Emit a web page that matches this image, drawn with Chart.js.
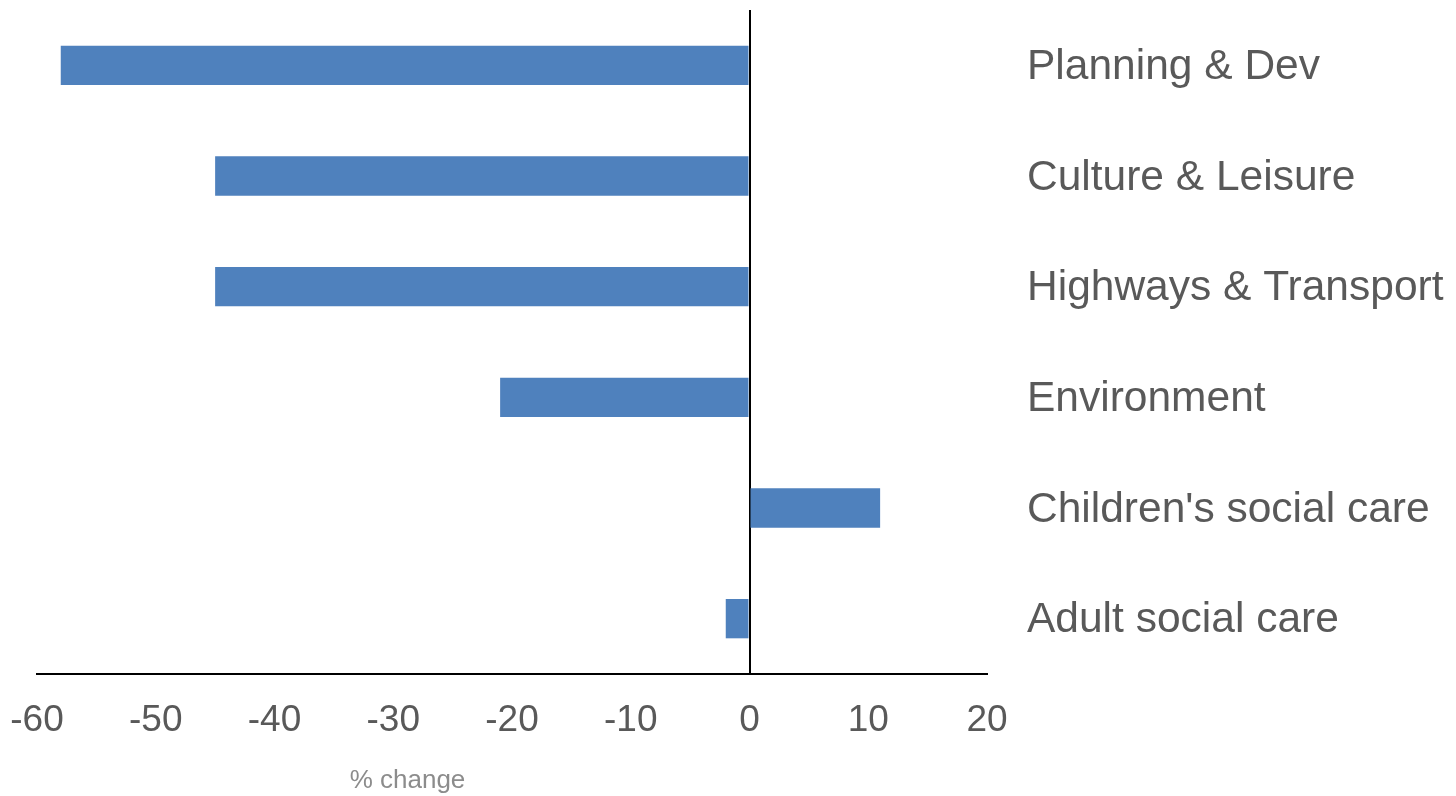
<!DOCTYPE html>
<html>
<head>
<meta charset="utf-8">
<title>% change by service</title>
<script src="https://cdn.jsdelivr.net/npm/chart.js@4/dist/chart.umd.min.js"></script>
<style>
    html, body { margin: 0; padding: 0; background: #fff; }
    #wrap { width: 1456px; height: 796px; }
</style>
</head>
<body>
<div id="wrap"><canvas id="myChart"></canvas></div>
<script>
// services, top to bottom
const services = ['Planning & Dev', 'Culture & Leisure', 'Highways & Transport', 'Environment', "Children's social care", 'Adult social care']
const changes = [-58, -45, -45, -21, 11, -2]
const xTicks = [-60, -50, -40, -30, -20, -10, 0, 10, 20]

const FONT = "'Liberation Sans', Arial, sans-serif"

// axis caption sits under the left half, not centred on the plot
const captionPlugin = {
    id: 'caption',
    afterDraw(chart) {
        const { ctx, scales } = chart
        ctx.save()
        ctx.font = '26px ' + FONT
        ctx.fillStyle = '#8c8c8c'
        ctx.textAlign = 'center'
        ctx.textBaseline = 'alphabetic'
        ctx.fillText('% change', scales.x.getPixelForValue(-28.8), 788)
        ctx.restore()
    }
}

const data = {
    labels: services,
    datasets: [{
        data: changes,
        backgroundColor: '#4f81bd',
        borderWidth: 0,
        categoryPercentage: 1,
        barPercentage: 0.355,
    }]
}

const config = {
    type: 'bar',
    data: data,
    options: {
        indexAxis: 'y',
        responsive: true,
        maintainAspectRatio: false,
        animation: false,
        layout: { padding: { left: 37, top: 10, right: 0, bottom: 0 } },
        plugins: {
            legend: { display: false },
            tooltip: { enabled: false },
        },
        scales: {
            x: {
                min: -60,
                max: 20,
                afterBuildTicks: (scale) => { scale.ticks = xTicks.map(v => ({ value: v })) },
                afterFit: (scale) => {
                    scale.height = 122
                    scale.paddingLeft = 0
                    scale.paddingRight = 0
                },
                border: { display: true, color: '#000', width: 2 },
                grid: {
                    drawTicks: false,
                    lineWidth: 2,
                    color: (ctx) => ctx.tick && ctx.tick.value === 0 ? '#000' : 'rgba(0,0,0,0)',
                },
                ticks: {
                    padding: 25,
                    color: '#595959',
                    font: { family: FONT, size: 37 },
                },
            },
            y: {
                position: 'right',
                afterFit: (scale) => {
                    scale.width = 469
                    scale.paddingTop = 0
                    scale.paddingBottom = 0
                },
                border: { display: false },
                grid: { display: false, drawTicks: false },
                ticks: {
                    padding: 40,
                    labelOffset: 2,
                    color: '#595959',
                    font: { family: FONT, size: 42.5 },
                },
            },
        },
    },
    plugins: [captionPlugin],
}

const resultChart = new Chart(document.querySelector('#myChart'), config)
</script>
</body>
</html>
